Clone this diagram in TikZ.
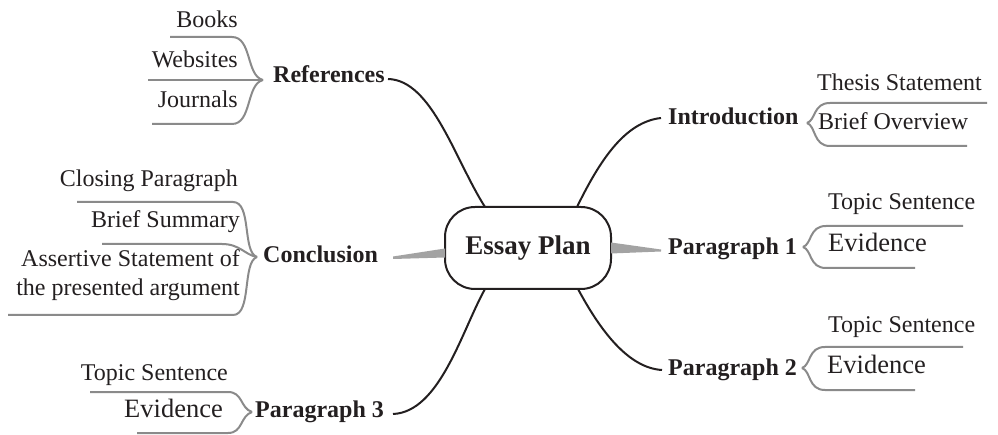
\documentclass[tikz,border=0pt]{standalone}
\usepackage{fontspec}
\setmainfont{Liberation Serif}
\definecolor{ink}{HTML}{231F20}
\definecolor{subgray}{HTML}{8A8A8A}
\definecolor{wedgegray}{HTML}{A3A3A3}
\begin{document}
\begin{tikzpicture}[x=1pt,y=-1pt,
  leaf/.style={font=\fontsize{24}{26}\selectfont, inner sep=0pt, text=ink},
  bigleaf/.style={font=\fontsize{26.5}{28}\selectfont, inner sep=0pt, text=ink},
  mainlbl/.style={font=\bfseries\fontsize{24}{26}\selectfont, inner sep=0pt, text=ink},
  plannode/.style={draw=ink, line width=2pt, rounded corners=30pt, minimum width=166pt, minimum height=82pt, inner sep=0pt, text=ink, font=\bfseries\fontsize{27}{30}\selectfont},
  branch/.style={draw=ink, line width=2pt},
  subline/.style={draw=subgray, line width=2pt},
  wedge/.style={fill=wedgegray, draw=none}]
\useasboundingbox (0,0) rectangle (998,435);

% central node
\node[plannode] (plan) at (528,248) {Essay Plan};

% main labels
\node[mainlbl, anchor=base west] (ref) at (273,83) {References};
\node[mainlbl, anchor=base west] (concl) at (263,263) {Conclusion};
\node[mainlbl, anchor=base west] (para3) at (255,417) {Paragraph 3};
\node[mainlbl, anchor=base west] (intro) at (668,125) {Introduction};
\node[mainlbl, anchor=base west] (para1) at (668,255) {Paragraph 1};
\node[mainlbl, anchor=base west] (para2) at (668,375) {Paragraph 2};

% leaves
\node[leaf, anchor=base east] (books) at (238,28) {Books};
\node[leaf, anchor=base east] (webs) at (238,68) {Websites};
\node[leaf, anchor=base east] (journ) at (238,108) {Journals};
\node[leaf, anchor=base east] (closing) at (238,187) {Closing Paragraph};
\node[leaf, anchor=base east] (summary) at (240,228) {Brief Summary};
\node[leaf, anchor=base east] (assert1) at (240,267) {Assertive Statement of};
\node[leaf, anchor=base east] (assert2) at (240,296) {the presented argument};
\node[leaf, anchor=base east] (topic3) at (228,380) {Topic Sentence};
\node[bigleaf, anchor=base east] (evid3) at (223,417) {Evidence};
\node[leaf, anchor=base west] (thesis) at (817,91) {Thesis Statement};
\node[leaf, anchor=base west] (overview) at (818,130) {Brief Overview};
\node[leaf, anchor=base west] (topic1) at (828,210) {Topic Sentence};
\node[bigleaf, anchor=base west] (evid1) at (828,252) {Evidence};
\node[leaf, anchor=base west] (topic2) at (828,333) {Topic Sentence};
\node[bigleaf, anchor=base west] (evid2) at (827,373) {Evidence};

% connector end points
\coordinate (refout) at (388,79);
\coordinate (planNW) at (485,207);
\coordinate (planNE) at (577,207);
\coordinate (planSW) at (485,289);
\coordinate (planSE) at (578,289);
\coordinate (introout) at (661,118);
\coordinate (para2out) at (662,370);
\coordinate (para3out) at (393,414);

% main branches
\draw[branch] (refout) .. controls (432,80) and (455,160) .. (planNW);
\draw[branch] (introout) .. controls (625,122) and (600,160) .. (planNE);
\draw[branch] (para2out) .. controls (628,368) and (600,330) .. (planSE);
\draw[branch] (para3out) .. controls (440,412) and (462,330) .. (planSW);

% tapered branches
\fill[wedge] (445,248.5) -- (393,256.5) -- (393,259) -- (445,257.5) -- cycle;
\fill[wedge] (611,242.5) -- (661,249.5) -- (661,251.5) -- (611,253.5) -- cycle;

% bracket tips
\coordinate (reftip) at (263,80);
\coordinate (concltip) at (257,257);
\coordinate (p3tip) at (252,412);
\coordinate (introtip) at (807,123);
\coordinate (p1tip) at (803,247);
\coordinate (p2tip) at (802,368);

% References group
\draw[subline] (170,37) -- (232,37) .. controls (252,37) and (246,76) .. (reftip);
\draw[subline] (148,80) -- (reftip);
\draw[subline] (152,124) -- (232,124) .. controls (252,124) and (246,84) .. (reftip);

% Conclusion group
\draw[subline] (77,202) -- (233,202) .. controls (252,202) and (242,252) .. (concltip);
\draw[subline] (102,244) -- (222,244) .. controls (240,244) and (245,255) .. (concltip);
\draw[subline] (8,315) -- (233,315) .. controls (252,315) and (242,262) .. (concltip);

% Paragraph 3 group
\draw[subline] (90,392) -- (228,392) .. controls (243,392) and (240,408) .. (p3tip);
\draw[subline] (137,433) -- (228,433) .. controls (243,433) and (240,416) .. (p3tip);

% Introduction group
\draw[subline] (introtip) .. controls (816,120) and (813,103) .. (830,103) -- (987,103);
\draw[subline] (introtip) .. controls (816,126) and (813,146) .. (830,146) -- (967,146);

% Paragraph 1 group
\draw[subline] (p1tip) .. controls (812,244) and (809,226) .. (826,226) -- (963,226);
\draw[subline] (p1tip) .. controls (812,250) and (809,268) .. (826,268) -- (915,268);

% Paragraph 2 group
\draw[subline] (p2tip) .. controls (811,365) and (808,347) .. (825,347) -- (963,347);
\draw[subline] (p2tip) .. controls (811,371) and (808,390) .. (825,390) -- (915,390);
\end{tikzpicture}
\end{document}
